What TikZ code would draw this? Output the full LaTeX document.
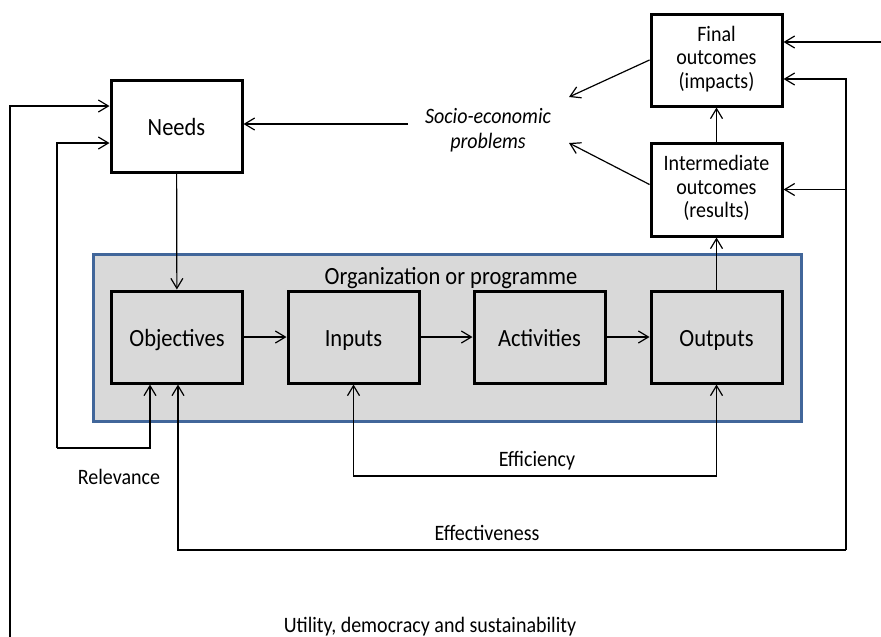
\documentclass[tikz,border=0pt]{standalone}
\usepackage{fontspec}
\usepackage{graphicx}
\setmainfont{Carlito}
\usetikzlibrary{arrows.meta}
\definecolor{orgfill}{HTML}{D9D9D9}
\definecolor{orgline}{HTML}{41669A}
\newcommand{\tall}[2][8pt]{\raisebox{0pt}[\dimexpr\height+#1\relax][\depth]{\scalebox{1}[1.1]{\begin{tabular}{@{}c@{}}#2\end{tabular}}}}

\begin{document}
\begin{tikzpicture}[x=1pt, y=-1pt, every node/.style={font=\fontsize{22.5}{24.5}\selectfont}]
\useasboundingbox (0,0) rectangle (881,637);
\tikzset{stage/.style={draw, line width=3pt, minimum width=131pt, minimum height=92pt, inner sep=0pt}}
\tikzset{outcome/.style={stage, fill=white, font=\fontsize{20}{21.4}\selectfont}}
\tikzset{conn/.style={-{Straight Barb[length=10pt,width=12pt]}, line width=1.2pt}}
\tikzset{bothconn/.style={{Straight Barb[length=10pt,width=12pt]}-{Straight Barb[length=10pt,width=12pt]}, line width=1.2pt}}
\tikzset{lbl/.style={font=\fontsize{20}{22}\selectfont}}

% programme
\node[draw=orgline, fill=orgfill, line width=3pt, minimum width=708pt, minimum height=167pt, inner sep=0pt] (org) at (447,337.5) {};
\node (orgname) at (451,275) {\tall{Organization or programme}};

\node[stage, fill=white] (needs) at (176.5,126) {\tall{Needs}};
\node[stage, fill=orgfill] (objectives) at (177,337) {\tall{Objectives}};
\node[stage, fill=orgfill] (inputs) at (353.5,337) {\tall{Inputs}};
\node[stage, fill=orgfill] (activities) at (539.5,337) {\tall{Activities}};
\node[stage, fill=orgfill] (outputs) at (716.5,337) {\tall{Outputs}};

\node[outcome] (final) at (716.5,60) {\tall[0pt]{Final\\outcomes\\(impacts)}};
\node[outcome, minimum height=93pt] (inter) at (716.5,189.5) {\tall[0pt]{Intermediate\\outcomes\\(results)}};

\node[font=\fontsize{20}{22.7}\selectfont\itshape] (socio) at (488,128) {\tall[6pt]{Socio-economic\\problems}};

\path (needs) edge [conn] (objectives);
\path (objectives) edge [conn] (inputs);
\path (inputs) edge [conn] (activities);
\path (activities) edge [conn] (outputs);
\path (outputs) edge [conn] (inter);
\path (inter) edge [conn] (final);

% socio-economic problems
\coordinate (socioIn) at (408,124);
\coordinate (socioTop) at (569,97);
\coordinate (socioBot) at (569,143);
\draw[conn] (socioIn) -- (socioIn -| needs.east);
\draw[conn] (final.west) -- (socioTop);
\draw[conn] ([yshift=5pt]inter.west) -- (socioBot);

\coordinate (inTop) at (881,42);
\draw[conn] (inTop) -- (inTop -| final.east);

% evaluation loops
\coordinate (utilC) at (10,637);
\draw[conn] (utilC) |- ([yshift=20pt]needs.west);

\coordinate (relC) at (57,448);
\draw[conn] (relC) |- ([yshift=-17pt]needs.west);
\draw[conn] (relC) -| ([xshift=-27pt]objectives.south);

\coordinate (effC) at (846,550);
\draw[conn] (effC) -| ([xshift=1pt]objectives.south);
\draw[conn] (effC) |- ([yshift=-19pt]final.east);
\draw[conn] (effC |- inter.east) -- (inter.east);

\coordinate (effiC) at (535,476);
\draw[bothconn] (inputs.south) |- (effiC) -| (outputs.south);

\node[lbl] (relevance) at (119,476) {\tall{Relevance}};
\node[lbl] (efficiency) at (537,458) {\tall{Efficiency}};
\node[lbl] (effectiveness) at (487,532) {\tall{Effectiveness}};
\node[lbl] (utility) at (430,624) {\tall{Utility, democracy and sustainability}};

\end{tikzpicture}
\end{document}
